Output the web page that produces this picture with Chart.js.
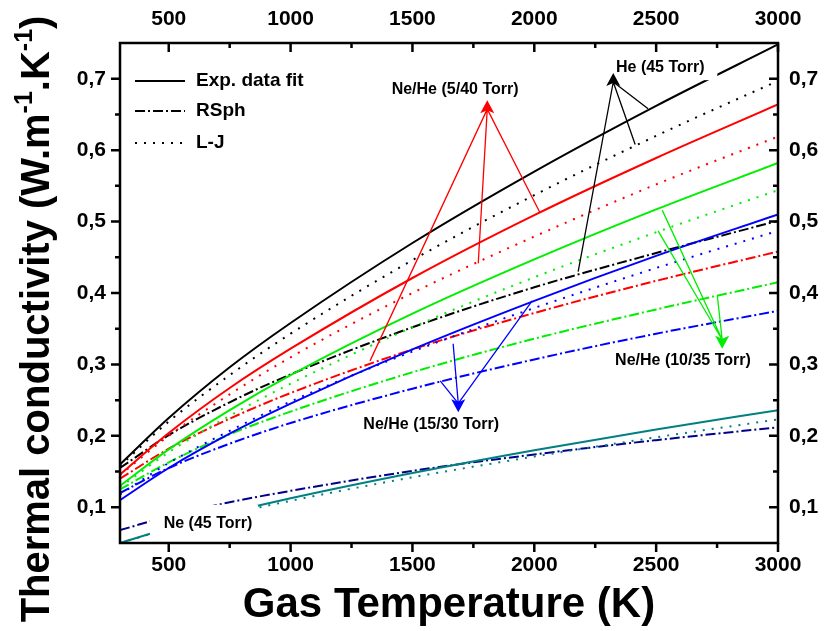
<!DOCTYPE html>
<html>
<head>
<meta charset="utf-8">
<script src="https://cdn.jsdelivr.net/npm/chart.js@4.4.0/dist/chart.umd.min.js"></script>
<style>
  html, body { margin: 0; padding: 0; background: #fff; }
</style>
</head>
<body>
<canvas id="kChart" width="824" height="631"></canvas>
<script>
// gas temperature (K)
const temps = [300, 500, 750, 1000, 1500, 2000, 2500, 3000];

// thermal conductivity (W/m/K)
// He (45 Torr)
const heExp  = [0.160, 0.225, 0.296, 0.358, 0.470, 0.570, 0.662, 0.748];
const heLJ   = [0.158, 0.220, 0.285, 0.343, 0.446, 0.537, 0.620, 0.697];
const heRSph = [0.155, 0.201, 0.247, 0.286, 0.352, 0.408, 0.456, 0.501];
// Ne/He (5/40 Torr)
const m540Exp  = [0.146, 0.204, 0.267, 0.322, 0.421, 0.509, 0.589, 0.664];
const m540LJ   = [0.145, 0.200, 0.258, 0.310, 0.400, 0.479, 0.552, 0.619];
const m540RSph = [0.140, 0.182, 0.224, 0.260, 0.321, 0.372, 0.417, 0.458];
// Ne/He (10/35 Torr)
const m1035Exp  = [0.130, 0.181, 0.236, 0.285, 0.371, 0.447, 0.517, 0.582];
const m1035LJ   = [0.128, 0.177, 0.228, 0.273, 0.352, 0.422, 0.485, 0.544];
const m1035RSph = [0.125, 0.163, 0.202, 0.234, 0.289, 0.336, 0.377, 0.415];
// Ne/He (15/30 Torr)
const m1530Exp  = [0.110, 0.155, 0.203, 0.245, 0.321, 0.389, 0.452, 0.510];
const m1530LJ   = [0.118, 0.162, 0.207, 0.248, 0.318, 0.379, 0.435, 0.487];
const m1530RSph = [0.120, 0.155, 0.189, 0.218, 0.266, 0.307, 0.343, 0.375];
// Ne (45 Torr)
const neExp  = [0.050, 0.0706, 0.0927, 0.1126, 0.148, 0.180, 0.209, 0.236];
const neLJ   = [0.050, 0.0697, 0.0907, 0.109, 0.142, 0.171, 0.198, 0.223];
const neRSph = [0.068, 0.0875, 0.107, 0.123, 0.151, 0.174, 0.194, 0.212];

const xTicks = [500, 1000, 1500, 2000, 2500, 3000];
const xMinor = [750, 1250, 1750, 2250, 2750];
const yTicks = [0.1, 0.2, 0.3, 0.4, 0.5, 0.6, 0.7];
const yMinor = [0.15, 0.25, 0.35, 0.45, 0.55, 0.65];

const legendNames = ["Exp. data fit", "RSph", "L-J"];

// annotations, in data units
const noteLabels = [
  { text: "Ne/He (5/40 Torr)", at: [1675, 0.685] },
  { text: "He (45 Torr)", at: [2517, 0.716], box: [2270, 2751, 0.698, 0.736] },
  { text: "Ne/He (10/35 Torr)", at: [2610, 0.305] },
  { text: "Ne/He (15/30 Torr)", at: [1577, 0.216] },
  { text: "Ne (45 Torr)", at: [661, 0.077], box: [423, 866, 0.053, 0.1035] },
];
const noteArrows = [
  { color: "#ff0000", tip: [1807, 0.670], up: true,
    tails: [[1326, 0.305], [1770, 0.4415], [2024, 0.512]] },
  { color: "#000000", tip: [2324, 0.708], up: true,
    tails: [[2180, 0.430], [2414, 0.608], [2467, 0.658]] },
  { color: "#00ee00", tip: [2771, 0.322], up: false,
    tails: [[2525, 0.516], [2508, 0.487], [2751, 0.3965]] },
  { color: "#0000ff", tip: [1688, 0.233], up: false,
    tails: [[1991, 0.389], [1667, 0.329], [1614, 0.277]] },
];

const SOLID = [];
const DASHDOT = [10, 3, 2, 3];
const DOT = [2, 7];

function series(vals, color, dash) {
  return {
    data: temps.map((t, i) => ({ x: t, y: vals[i] })),
    borderColor: color,
    borderWidth: 2,
    borderDash: dash,
    pointRadius: 0,
    cubicInterpolationMode: "monotone",
    fill: false,
  };
}

const datasets = [
  series(neExp, "#008080", SOLID),
  series(neLJ, "#008080", DOT),
  series(neRSph, "#00008b", DASHDOT),
  series(m1530RSph, "#0000ff", DASHDOT),
  series(m1530LJ, "#0000ff", DOT),
  series(m1530Exp, "#0000ff", SOLID),
  series(m1035RSph, "#00ee00", DASHDOT),
  series(m1035LJ, "#00ee00", DOT),
  series(m1035Exp, "#00ee00", SOLID),
  series(m540RSph, "#ff0000", DASHDOT),
  series(m540LJ, "#ff0000", DOT),
  series(m540Exp, "#ff0000", SOLID),
  series(heRSph, "#000000", DASHDOT),
  series(heLJ, "#000000", DOT),
  series(heExp, "#000000", SOLID),
];

const tickFont = { family: "'Liberation Sans', Arial, sans-serif", size: 21, weight: "bold" };
const commaFmt = (v) => v.toFixed(1).replace(".", ",");

function axis(pos, min, max, ticks, fmt, pad, size) {
  return {
    type: "linear",
    position: pos,
    min: min,
    max: max,
    grid: { display: false, drawTicks: false },
    border: { display: false },
    ticks: { font: tickFont, color: "#000", padding: pad, callback: fmt, maxRotation: 0, autoSkip: false },
    afterBuildTicks: (s) => { s.ticks = ticks.map((v) => ({ value: v })); },
    afterFit: (s) => {
      if (pos === "left" || pos === "right") s.width = size;
      else s.height = size;
    },
  };
}

const xAxis = axis("bottom", 300, 3000, xTicks, (v) => v, 10, 88);
xAxis.title = {
  display: true,
  text: "Gas Temperature (K)",
  color: "#000",
  font: { family: "'Liberation Sans', Arial, sans-serif", size: 42, weight: "bold" },
  padding: { top: 0, bottom: 0 },
};
const x2Axis = axis("top", 300, 3000, xTicks, (v) => v, 11, 43);
x2Axis.axis = "x";
const yAxis = axis("left", 0.05, 0.75, yTicks, commaFmt, 14, 120);
const y2Axis = axis("right", 0.05, 0.75, yTicks, commaFmt, 11, 46);
y2Axis.axis = "y";

// white label boxes, labels and arrows
const notesPlugin = {
  id: "notes",
  afterDatasetsDraw(chart) {
    const { ctx, scales } = chart;
    const px = (p) => [scales.x.getPixelForValue(p[0]), scales.y.getPixelForValue(p[1])];
    ctx.save();
    noteLabels.forEach((n) => {
      if (!n.box) return;
      const x0 = scales.x.getPixelForValue(n.box[0]);
      const x1 = scales.x.getPixelForValue(n.box[1]);
      const y0 = scales.y.getPixelForValue(n.box[3]);
      const y1 = scales.y.getPixelForValue(n.box[2]);
      ctx.fillStyle = "#fff";
      ctx.fillRect(x0, y0, x1 - x0, y1 - y0);
    });
    noteArrows.forEach((a) => {
      const [tx, ty] = px(a.tip);
      const s = a.up ? 1 : -1;
      const baseY = ty + s * 13;
      ctx.strokeStyle = a.color;
      ctx.lineWidth = 1.3;
      ctx.beginPath();
      a.tails.forEach((t) => {
        const [x, y] = px(t);
        ctx.moveTo(x, y);
        ctx.lineTo(tx, baseY - s * 4);
      });
      ctx.stroke();
      ctx.fillStyle = a.color;
      ctx.beginPath();
      ctx.moveTo(tx, ty);
      ctx.lineTo(tx + 7, baseY);
      ctx.lineTo(tx, baseY - s * 3);
      ctx.lineTo(tx - 7, baseY);
      ctx.closePath();
      ctx.fill();
    });
    ctx.fillStyle = "#000";
    ctx.font = "bold 16px 'Liberation Sans', Arial, sans-serif";
    ctx.textAlign = "center";
    ctx.textBaseline = "middle";
    noteLabels.forEach((n) => {
      const [x, y] = px(n.at);
      ctx.fillText(n.text, x, y);
    });
    ctx.restore();
  },
};

// frame, tick marks, legend, y title
const framePlugin = {
  id: "frame",
  afterDraw(chart) {
    const { ctx, chartArea: a, scales } = chart;
    ctx.save();
    ctx.strokeStyle = "#000";
    ctx.lineWidth = 2.5;
    ctx.strokeRect(a.left, a.top, a.right - a.left, a.bottom - a.top);

    ctx.beginPath();
    const xt = (v, len) => {
      const p = scales.x.getPixelForValue(v);
      ctx.moveTo(p, a.bottom); ctx.lineTo(p, a.bottom + len);
      ctx.moveTo(p, a.top); ctx.lineTo(p, a.top + len);
    };
    const yt = (v, len) => {
      const p = scales.y.getPixelForValue(v);
      ctx.moveTo(a.left, p); ctx.lineTo(a.left - len, p);
      ctx.moveTo(a.right, p); ctx.lineTo(a.right - len, p);
    };
    xTicks.forEach((v) => xt(v, 9));
    xMinor.forEach((v) => xt(v, 5));
    yTicks.forEach((v) => yt(v, 9));
    yMinor.forEach((v) => yt(v, 5));
    ctx.stroke();

    // legend
    const lx = a.left + 15, ly = [a.top + 38, a.top + 68, a.top + 100];
    const dashes = [SOLID, DASHDOT, DOT];
    ctx.lineWidth = 2;
    dashes.forEach((d, i) => {
      ctx.setLineDash(d);
      ctx.beginPath();
      ctx.moveTo(lx, ly[i]);
      ctx.lineTo(lx + 50, ly[i]);
      ctx.stroke();
    });
    ctx.setLineDash([]);
    ctx.fillStyle = "#000";
    ctx.font = "bold 19px 'Liberation Sans', Arial, sans-serif";
    ctx.textBaseline = "middle";
    legendNames.forEach((t, i) => ctx.fillText(t, lx + 61, ly[i]));

    // y axis title with superscripts
    const size = 40;
    const parts = [
      ["Thermal conductivity (W.m", false], ["-1", true], [".K", false], ["-1", true], [")", false],
    ];
    const big = "bold " + size + "px 'Liberation Sans', Arial, sans-serif";
    const small = "bold " + Math.round(size * 0.62) + "px 'Liberation Sans', Arial, sans-serif";
    let total = 0;
    parts.forEach(([t, sup]) => { ctx.font = sup ? small : big; total += ctx.measureText(t).width; });
    ctx.translate(49, (a.top + a.bottom) / 2 + 26);
    ctx.rotate(-Math.PI / 2);
    ctx.textBaseline = "alphabetic";
    ctx.textAlign = "left";
    let x = -total / 2;
    parts.forEach(([t, sup]) => {
      ctx.font = sup ? small : big;
      ctx.fillText(t, x, sup ? -size * 0.42 : 0);
      x += ctx.measureText(t).width;
    });
    ctx.restore();
  },
};

new Chart(document.getElementById("kChart").getContext("2d"), {
  type: "line",
  data: { datasets: datasets },
  options: {
    responsive: false,
    animation: false,
    layout: { padding: 0 },
    plugins: { legend: { display: false }, tooltip: { enabled: false } },
    scales: { x: xAxis, x2: x2Axis, y: yAxis, y2: y2Axis },
  },
  plugins: [notesPlugin, framePlugin],
});
</script>
</body>
</html>
